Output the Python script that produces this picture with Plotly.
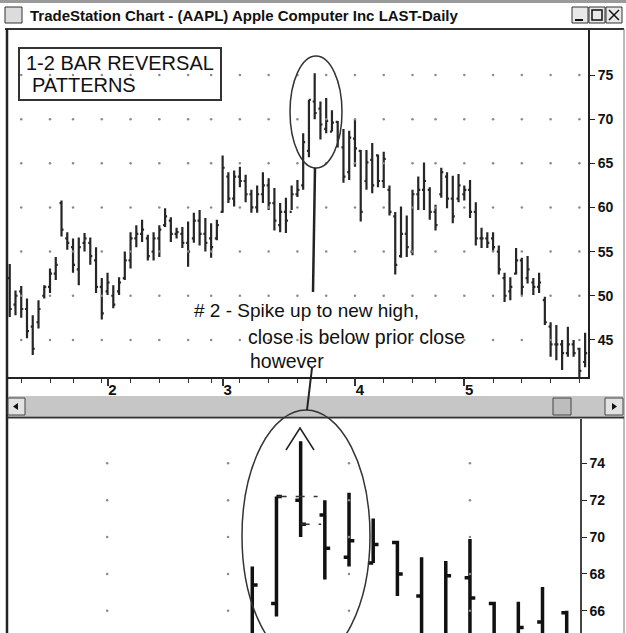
import plotly.graph_objects as go

W, H = 626, 633

# ---- data ----
bar_idx = list(range(101))
opens = [52.0, 49.0, 50.5, 48.5, 46.5, 47.0, 50.0, 51.0, 52.5, 60.5,
         56.5, 55.5, 53.0, 56.0, 56.0, 54.0, 51.0, 50.5, 50.0, 50.5,
         52.0, 54.0, 56.5, 57.0, 56.5, 55.0, 56.5, 58.0, 58.5, 57.0,
         57.0, 56.0, 56.5, 58.5, 57.0, 56.5, 56.5, 59.5, 63.5, 61.0,
         63.5, 63.0, 61.5, 60.0, 61.5, 62.5, 60.5, 58.0, 59.5, 59.5,
         61.5, 62.5, 66.4, 72.0, 71.2, 68.9, 68.6, 69.7, 66.8, 64.0,
         67.8, 66.4, 63.0, 65.4, 65.9, 63.0, 62.0, 59.0, 54.5, 57.0,
         55.0, 61.5, 62.0, 62.0, 59.5, 61.5, 63.5, 61.0, 61.0, 61.5,
         62.0, 59.5, 56.5, 56.5, 56.5, 55.0, 52.0, 50.5, 52.5, 54.0,
         52.0, 51.5, 51.0, 49.5, 46.5, 44.5, 44.5, 43.5, 44.5, 44.0,
         42.5]
highs = [53.6, 50.6, 51.1, 49.7, 47.8, 49.5, 51.2, 53.1, 54.4, 60.8,
         57.2, 56.5, 56.6, 57.1, 56.6, 55.5, 52.0, 52.6, 51.2, 52.1,
         55.0, 57.2, 58.0, 58.6, 56.9, 57.2, 58.0, 59.9, 58.9, 57.7,
         57.8, 58.4, 59.4, 59.7, 58.8, 58.2, 58.6, 65.9, 64.0, 64.2,
         64.6, 63.7, 62.0, 62.5, 64.0, 63.3, 62.2, 60.5, 61.1, 62.5,
         63.1, 68.4, 72.2, 75.2, 72.0, 72.4, 71.0, 69.8, 68.9, 68.7,
         69.9, 66.5, 66.5, 67.3, 66.0, 66.3, 62.5, 59.5, 60.1, 59.1,
         62.0, 63.5, 65.1, 62.3, 60.3, 64.5, 64.0, 63.6, 63.8, 62.5,
         63.1, 60.6, 57.7, 57.2, 57.2, 55.7, 52.6, 52.1, 55.4, 54.3,
         54.5, 52.0, 52.6, 49.9, 47.0, 46.7, 45.0, 46.5, 45.0, 44.1,
         45.8]
lows = [47.6, 47.8, 47.5, 45.2, 43.3, 46.3, 49.7, 50.3, 51.8, 56.7,
        55.2, 52.6, 51.2, 55.0, 53.5, 50.3, 47.3, 50.1, 48.6, 50.1,
        51.8, 53.1, 55.5, 56.1, 54.0, 54.0, 54.4, 57.8, 56.1, 56.5,
        55.4, 53.3, 56.0, 55.7, 55.0, 54.3, 56.3, 59.4, 60.5, 60.1,
        62.3, 60.6, 59.4, 59.4, 60.5, 59.7, 57.4, 57.2, 57.1, 59.7,
        61.2, 62.0, 65.7, 70.0, 67.7, 68.4, 68.6, 66.8, 62.8, 63.1,
        64.6, 58.4, 62.0, 61.6, 62.3, 62.2, 59.1, 52.4, 54.3, 54.4,
        54.6, 59.7, 59.7, 58.6, 57.4, 61.1, 59.9, 58.2, 60.6, 60.8,
        58.8, 55.7, 55.4, 55.4, 55.0, 52.4, 49.3, 49.5, 52.4, 50.1,
        51.4, 50.1, 50.3, 46.7, 43.1, 42.7, 41.6, 43.1, 43.1, 40.8,
        41.9]
closes = [48.5, 50.0, 48.5, 46.0, 44.0, 48.5, 51.0, 52.5, 53.5, 57.5,
          56.0, 53.5, 55.5, 56.5, 54.5, 51.0, 48.0, 51.5, 49.0, 51.5,
          54.0, 56.5, 57.0, 57.5, 54.5, 56.5, 57.5, 59.0, 57.0, 57.2,
          56.0, 55.0, 58.5, 57.0, 56.0, 55.5, 58.0, 64.5, 61.0, 63.5,
          63.0, 61.5, 60.0, 61.5, 62.5, 60.5, 58.5, 59.5, 58.5, 61.5,
          62.0, 67.4, 72.2, 70.7, 69.4, 69.8, 69.6, 68.0, 63.5, 67.9,
          66.7, 59.5, 65.1, 62.5, 63.0, 65.5, 59.5, 53.5, 57.0, 55.5,
          61.5, 62.0, 63.0, 59.5, 58.0, 64.0, 61.0, 59.0, 62.5, 62.0,
          59.5, 56.5, 56.5, 56.0, 55.5, 53.0, 50.0, 51.0, 54.0, 51.0,
          53.0, 51.0, 51.5, 47.0, 44.5, 44.5, 43.5, 44.5, 43.5, 41.5,
          43.5]

upper_y_ticks = [45, 50, 55, 60, 65, 70, 75]
lower_y_ticks = [66, 68, 70, 72, 74]
week_bars = [2, 7, 11, 16, 21, 26, 31, 35, 40, 45, 50, 55, 60, 65, 70, 74, 79, 84, 89, 94, 99]
month_bars = [17, 37, 60, 79]
month_labels = ["2", "3", "4", "5"]


def px(x):
    return x / W


def py(y):
    return 1 - y / H


FONT = "Liberation Sans, Arial, sans-serif"
fig = go.Figure()

# grid dots
gx, gy = [], []
for xv in week_bars:
    for yv in upper_y_ticks:
        gx.append(xv)
        gy.append(yv)
fig.add_trace(go.Scatter(x=gx, y=gy, mode="markers", xaxis="x", yaxis="y",
                         marker=dict(size=2.5, color="#8a8a8a"), hoverinfo="skip"))
gx2, gy2 = [], []
for xv in week_bars:
    for yv in lower_y_ticks:
        gx2.append(xv)
        gy2.append(yv)
fig.add_trace(go.Scatter(x=gx2, y=gy2, mode="markers", xaxis="x2", yaxis="y2",
                         marker=dict(size=2.5, color="#8a8a8a"), hoverinfo="skip"))

# OHLC upper
fig.add_trace(go.Ohlc(x=bar_idx, open=opens, high=highs, low=lows, close=closes,
                      xaxis="x", yaxis="y", tickwidth=0.35,
                      increasing=dict(line=dict(color="#262626", width=2.2)),
                      decreasing=dict(line=dict(color="#262626", width=2.2))))
# OHLC lower (zoomed)
fig.add_trace(go.Ohlc(x=bar_idx, open=opens, high=highs, low=lows, close=closes,
                      xaxis="x2", yaxis="y2", tickwidth=0.22,
                      increasing=dict(line=dict(color="#111111", width=3.5)),
                      decreasing=dict(line=dict(color="#111111", width=3.5))))

# dashed guide lines in lower panel
fig.add_trace(go.Scatter(x=[52.05, 53.7], y=[72.2, 72.2], mode="lines", xaxis="x2", yaxis="y2",
                         line=dict(color="#333", width=1.5, dash="dash"), hoverinfo="skip"))
fig.add_trace(go.Scatter(x=[53.0, 53.85], y=[70.7, 70.7], mode="lines", xaxis="x2", yaxis="y2",
                         line=dict(color="#333", width=1.5, dash="dash"), hoverinfo="skip"))

shapes = []
# title bar chrome
shapes.append(dict(type="rect", xref="paper", yref="paper", x0=px(0), x1=px(626), y0=py(0), y1=py(3),
                   fillcolor="#9a9a9a", line=dict(width=0)))
shapes.append(dict(type="rect", xref="paper", yref="paper", x0=px(5), x1=px(22), y0=py(7), y1=py(23),
                   fillcolor="#dcdcdc", line=dict(color="#333", width=1)))
for bx0, bx1 in [(572, 588), (589, 605), (606, 622)]:
    shapes.append(dict(type="rect", xref="paper", yref="paper", x0=px(bx0), x1=px(bx1), y0=py(7), y1=py(23),
                       fillcolor="#e8e8e8", line=dict(color="#333", width=1)))
# minimize / maximize / close glyphs
shapes.append(dict(type="line", xref="paper", yref="paper", x0=px(575), x1=px(583), y0=py(20), y1=py(20),
                   line=dict(color="#111", width=2)))
shapes.append(dict(type="rect", xref="paper", yref="paper", x0=px(592), x1=px(602), y0=py(10), y1=py(20),
                   line=dict(color="#111", width=1.5)))
shapes.append(dict(type="line", xref="paper", yref="paper", x0=px(609), x1=px(619), y0=py(10), y1=py(20),
                   line=dict(color="#111", width=1.5)))
shapes.append(dict(type="line", xref="paper", yref="paper", x0=px(609), x1=px(619), y0=py(20), y1=py(10),
                   line=dict(color="#111", width=1.5)))
# frame lines
shapes.append(dict(type="line", xref="paper", yref="paper", x0=px(5), x1=px(624), y0=py(29), y1=py(29),
                   line=dict(color="#333", width=2)))
shapes.append(dict(type="line", xref="paper", yref="paper", x0=px(7), x1=px(7), y0=py(29), y1=py(633),
                   line=dict(color="#222", width=2.5)))
shapes.append(dict(type="line", xref="paper", yref="paper", x0=px(624), x1=px(624), y0=py(29), y1=py(633),
                   line=dict(color="#777", width=1)))
# scrollbar
shapes.append(dict(type="rect", xref="paper", yref="paper", x0=px(8), x1=px(624), y0=py(396), y1=py(416),
                   fillcolor="#c6c6c6", line=dict(width=0)))
for bx0, bx1 in [(8, 25), (605, 623)]:
    shapes.append(dict(type="rect", xref="paper", yref="paper", x0=px(bx0), x1=px(bx1), y0=py(398), y1=py(415),
                       fillcolor="#e2e2e2", line=dict(color="#444", width=1)))
shapes.append(dict(type="rect", xref="paper", yref="paper", x0=px(553), x1=px(571), y0=py(398), y1=py(415),
                   fillcolor="#bdbdbd", line=dict(color="#444", width=1)))
shapes.append(dict(type="path", xref="paper", yref="paper",
                   path=f"M {px(13)},{py(406.5)} L {px(18)},{py(403)} L {px(18)},{py(410)} Z",
                   fillcolor="#111", line=dict(width=0)))
shapes.append(dict(type="path", xref="paper", yref="paper",
                   path=f"M {px(617)},{py(406.5)} L {px(612)},{py(403)} L {px(612)},{py(410)} Z",
                   fillcolor="#111", line=dict(width=0)))
shapes.append(dict(type="line", xref="paper", yref="paper", x0=px(7), x1=px(624), y0=py(417.5), y1=py(417.5),
                   line=dict(color="#333", width=2)))
# annotation box
shapes.append(dict(type="rect", xref="paper", yref="paper", x0=px(19), x1=px(221), y0=py(48), y1=py(100),
                   line=dict(color="#333", width=2)))
# ellipses
shapes.append(dict(type="circle", xref="paper", yref="paper", x0=px(290), x1=px(342), y0=py(56), y1=py(168),
                   line=dict(color="#333", width=1.5)))
shapes.append(dict(type="circle", xref="paper", yref="paper", x0=px(242), x1=px(370), y0=py(410), y1=py(662),
                   line=dict(color="#333", width=1.5)))
# pointer lines
shapes.append(dict(type="line", xref="paper", yref="paper", x0=px(315), x1=px(313), y0=py(168), y1=py(292),
                   line=dict(color="#222", width=2.5)))
shapes.append(dict(type="line", xref="paper", yref="paper", x0=px(312), x1=px(307), y0=py(368), y1=py(410),
                   line=dict(color="#222", width=2)))
# caret above spike
shapes.append(dict(type="path", xref="paper", yref="paper",
                   path=f"M {px(286)},{py(450)} L {px(300)},{py(428)} L {px(314)},{py(450)}",
                   line=dict(color="#222", width=1.5)))

annotations = [
    dict(text="<b>TradeStation Chart - (AAPL) Apple Computer Inc LAST-Daily</b>", x=px(28), y=py(15),
         xref="paper", yref="paper", xanchor="left", yanchor="middle", showarrow=False,
         font=dict(family=FONT, size=15, color="#111")),
    dict(text="1-2 BAR REVERSAL", x=px(24), y=py(63), xref="paper", yref="paper", xanchor="left",
         yanchor="middle", showarrow=False, font=dict(family=FONT, size=20, color="#111")),
    dict(text="PATTERNS", x=px(30), y=py(85), xref="paper", yref="paper", xanchor="left",
         yanchor="middle", showarrow=False, font=dict(family=FONT, size=20, color="#111")),
    dict(text="# 2 - Spike up to new high,", x=px(192), y=py(311), xref="paper", yref="paper", xanchor="left",
         yanchor="middle", showarrow=False, font=dict(family=FONT, size=19, color="#111")),
    dict(text="close is below prior close", x=px(246), y=py(337), xref="paper", yref="paper", xanchor="left",
         yanchor="middle", showarrow=False, font=dict(family=FONT, size=19.5, color="#111")),
    dict(text="however", x=px(248), y=py(361), xref="paper", yref="paper", xanchor="left",
         yanchor="middle", showarrow=False, font=dict(family=FONT, size=19.5, color="#111")),
]

tickfont = dict(family=FONT, size=14, color="#111", weight="bold")
fig.update_layout(
    width=W, height=H, margin=dict(l=0, r=0, t=0, b=0),
    paper_bgcolor="white", plot_bgcolor="white", showlegend=False,
    shapes=shapes, annotations=annotations,
    xaxis=dict(domain=[px(8), px(588)], range=[-0.3, 100.5], anchor="y",
               showgrid=False, zeroline=False, rangeslider=dict(visible=False),
               showline=True, linecolor="#222", linewidth=2,
               tickmode="array", tickvals=week_bars, ticks="outside", ticklen=4,
               tickcolor="#333", showticklabels=False),
    xaxis3=dict(overlaying="x", anchor="y", range=[-0.3, 100.5], domain=[px(8), px(588)],
                showgrid=False, zeroline=False, showline=False,
                tickmode="array", tickvals=month_bars, ticktext=month_labels,
                ticks="outside", ticklen=8, tickcolor="#333", tickwidth=1.5,
                tickfont=dict(family=FONT, size=15, color="#111", weight="bold"), ticklabelshift=5,
                ticklabelstandoff=-9),
    yaxis=dict(domain=[py(377), py(30)], range=[40.8, 80.1], anchor="x", side="right",
               showgrid=False, zeroline=False, showline=True, linecolor="#222", linewidth=2,
               tickmode="array", tickvals=upper_y_ticks, ticks="outside", ticklen=5,
               tickcolor="#222", tickfont=tickfont, ticklabelstandoff=0),
    xaxis2=dict(domain=[px(8), px(580)], range=[40.9, 64.55], anchor="y2",
                showgrid=False, zeroline=False, showline=False, showticklabels=False,
                ticks="", rangeslider=dict(visible=False)),
    yaxis2=dict(domain=[0, py(419)], range=[64.8, 76.4], anchor="x2", side="right",
                showgrid=False, zeroline=False, showline=True, linecolor="#444", linewidth=1.5,
                tickmode="array", tickvals=lower_y_ticks, ticks="outside", ticklen=5,
                tickcolor="#222", tickfont=tickfont, ticklabelstandoff=0),
)
# make xaxis3 visible with the month traces
fig.add_trace(go.Scatter(x=[month_bars[0]], y=[upper_y_ticks[0]], xaxis="x3", yaxis="y",
                         mode="markers", marker=dict(opacity=0), hoverinfo="skip"))

fig.write_html("out.html", config={"displayModeBar": False},
               post_script="document.body.style.margin='0';document.body.style.overflow='hidden';")
